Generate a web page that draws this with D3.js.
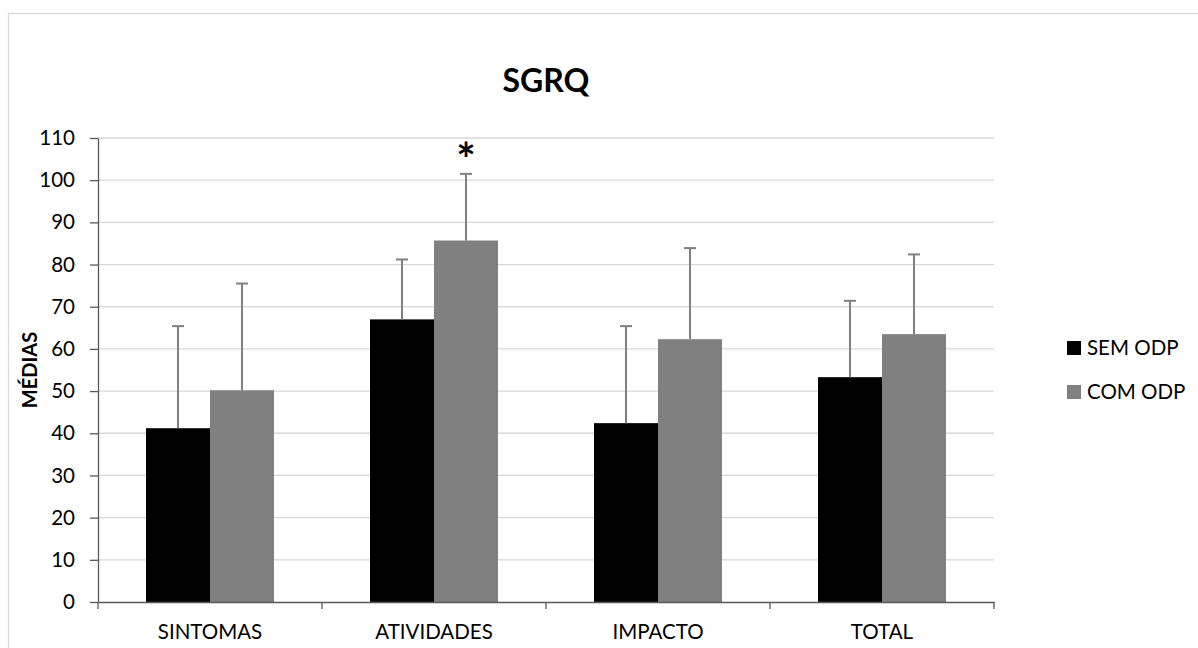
<!DOCTYPE html>
<html lang="pt">
<head>
  <meta charset="UTF-8">
  <title>SGRQ</title>
  <script src="https://d3js.org/d3.v7.min.js"></script>
  <style>
    body { margin: 0; background: #fff; }
    text { font-family: Lato, "Open Sans", sans-serif; fill: #000; }
    .grid line { stroke: #d9d9d9; stroke-width: 1.3; }
    .axis path, .axis line { stroke: #595959; stroke-width: 1.3; }
    .axis text { font-size: 20.5px; }
    .err { stroke: #808080; stroke-width: 2; }
  </style>
</head>
<body>
  <div id="chart"></div>
  <script>
    const categories = ["SINTOMAS", "ATIVIDADES", "IMPACTO", "TOTAL"];
    const seriesNames = ["SEM ODP", "COM ODP"];
    const semOdp = [41.2, 67.0, 42.4, 53.3];
    const comOdp = [50.2, 85.7, 62.3, 63.5];
    const semOdpSd = [24.2, 14.2, 23.0, 18.1];
    const comOdpSd = [25.3, 15.8, 21.6, 18.9];
    const yTicks = [0, 10, 20, 30, 40, 50, 60, 70, 80, 90, 100, 110];
    const significant = [{ category: "ATIVIDADES", series: "COM ODP", label: "*" }];
    const colors = ["#000000", "#808080"];

    const W = 1198, H = 648;
    const margin = { top: 138, right: 204, bottom: 46, left: 98 };
    const width = W - margin.left - margin.right,
          height = H - margin.top - margin.bottom;

    const svg = d3.select("#chart").append("svg")
      .attr("width", W).attr("height", H);

    // chart border
    svg.append("rect")
      .attr("x", 8.5).attr("y", 13.5)
      .attr("width", W + 20).attr("height", H + 20)
      .attr("fill", "none").attr("stroke", "#d9d9d9").attr("stroke-width", 1.3);

    const g = svg.append("g").attr("transform", `translate(${margin.left},${margin.top})`);

    const rows = categories.map((c, i) => ({
      category: c,
      values: [
        { series: seriesNames[0], value: semOdp[i], sd: semOdpSd[i] },
        { series: seriesNames[1], value: comOdp[i], sd: comOdpSd[i] }
      ]
    }));

    const x0 = d3.scaleBand().domain(categories).range([0, width]).padding(0);
    const x1 = d3.scaleBand().domain(seriesNames).range([0, x0.bandwidth()])
      .paddingInner(0).paddingOuter(0.75);
    const y = d3.scaleLinear().domain([0, 110]).range([height, 0]);
    const color = d3.scaleOrdinal().domain(seriesNames).range(colors);

    // gridlines
    g.append("g").attr("class", "grid")
      .selectAll("line").data(yTicks.filter(d => d > 0)).enter().append("line")
      .attr("x1", 0).attr("x2", width)
      .attr("y1", d => y(d)).attr("y2", d => y(d));

    // bars
    const groups = g.selectAll(".cat").data(rows).enter().append("g")
      .attr("class", "cat")
      .attr("transform", d => `translate(${x0(d.category)},0)`);

    groups.selectAll("rect").data(d => d.values).enter().append("rect")
      .attr("x", d => x1(d.series))
      .attr("y", d => y(d.value))
      .attr("width", x1.bandwidth())
      .attr("height", d => y(0) - y(d.value))
      .attr("fill", d => color(d.series));

    // error bars (upper only)
    const cap = 6;
    groups.selectAll(".err-v").data(d => d.values).enter().append("line")
      .attr("class", "err")
      .attr("x1", d => x1(d.series) + x1.bandwidth() / 2)
      .attr("x2", d => x1(d.series) + x1.bandwidth() / 2)
      .attr("y1", d => y(d.value))
      .attr("y2", d => y(d.value + d.sd));
    groups.selectAll(".err-c").data(d => d.values).enter().append("line")
      .attr("class", "err")
      .attr("x1", d => x1(d.series) + x1.bandwidth() / 2 - cap)
      .attr("x2", d => x1(d.series) + x1.bandwidth() / 2 + cap)
      .attr("y1", d => y(d.value + d.sd))
      .attr("y2", d => y(d.value + d.sd));

    // significance marker
    significant.forEach(s => {
      const row = rows.find(r => r.category === s.category);
      const v = row.values.find(d => d.series === s.series);
      g.append("text")
        .attr("x", x0(s.category) + x1(s.series) + x1.bandwidth() / 2)
        .attr("y", y(v.value + v.sd) + 2)
        .attr("text-anchor", "middle")
        .style("font-size", "46px").style("font-weight", "bold")
        .text(s.label);
    });

    // axes
    const yAxis = g.append("g").attr("class", "axis")
      .call(d3.axisLeft(y).tickValues(yTicks).tickSize(8).tickSizeOuter(0).tickPadding(15));
    const xAxis = g.append("g").attr("class", "axis")
      .attr("transform", `translate(0,${height})`)
      .call(d3.axisBottom(x0).tickSize(0).tickSizeOuter(0).tickPadding(22));
    // category boundary ticks
    xAxis.selectAll(".bound").data(d3.range(categories.length + 1)).enter().append("line")
      .attr("class", "bound")
      .attr("x1", i => i * x0.step()).attr("x2", i => i * x0.step())
      .attr("y1", 0).attr("y2", 7);

    // title
    svg.append("text")
      .attr("x", margin.left + width / 2).attr("y", 92)
      .attr("text-anchor", "middle")
      .style("font-size", "32px").style("font-weight", "bold")
      .text("SGRQ");

    // y label
    svg.append("text")
      .attr("transform", `translate(37,${margin.top + height / 2}) rotate(-90)`)
      .attr("text-anchor", "middle")
      .style("font-size", "20px").style("font-weight", "bold")
      .text("MÉDIAS");

    // legend
    const legend = svg.append("g").attr("transform", "translate(1067,341)");
    const li = legend.selectAll("g").data(seriesNames).enter().append("g")
      .attr("transform", (d, i) => `translate(0,${i * 44})`);
    li.append("rect").attr("width", 14).attr("height", 14)
      .attr("fill", d => color(d));
    li.append("text").attr("x", 20).attr("y", 14)
      .style("font-size", "20.5px").text(d => d);
  </script>
</body>
</html>
